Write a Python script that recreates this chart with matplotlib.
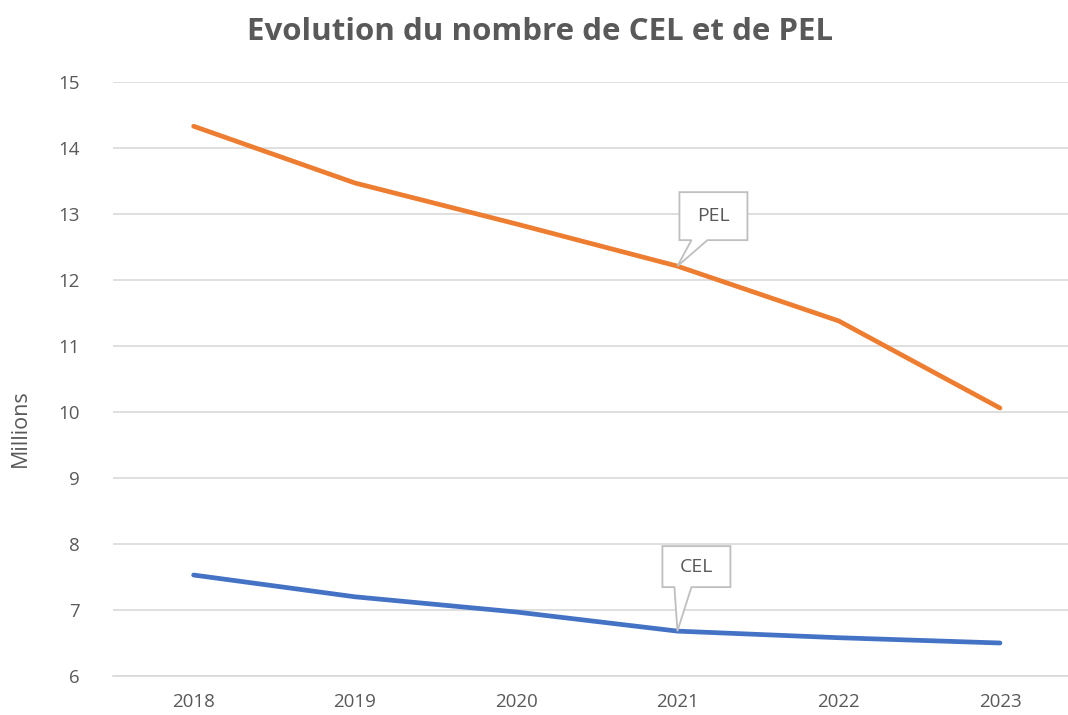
import matplotlib
matplotlib.use("Agg")
import matplotlib.pyplot as plt
import matplotlib.transforms as mtransforms
from matplotlib.patches import Polygon

years = ["2018", "2019", "2020", "2021", "2022", "2023"]
pel = [14.33, 13.47, 12.85, 12.21, 11.38, 10.06]
cel = [7.53, 7.20, 6.97, 6.68, 6.58, 6.50]

plt.rcParams['font.family'] = ['Open Sans', 'DejaVu Sans']
grey = '#595959'

fig = plt.figure(figsize=(10.68, 7.15), dpi=100)
ax = fig.add_axes([113/1068, 1-676/715, (1080.6-113)/1068, (676-82)/715])

x = list(range(len(years)))
ax.plot(x, cel, color='#4472C4', lw=3.4, solid_capstyle='round', zorder=3)
ax.plot(x, pel, color='#ED7D31', lw=3.4, solid_capstyle='round', zorder=3)

ax.set_xlim(-0.5, 5.5)
ax.set_ylim(6, 15)
ax.set_yticks(range(6, 16))
ax.set_xticks(x)
ax.set_xticklabels(years)
ax.grid(axis='y', color='#D9D9D9', lw=1.2)
ax.set_axisbelow(True)
for s in ['top', 'right', 'left']:
    ax.spines[s].set_visible(False)
ax.spines['bottom'].set_color('#D9D9D9')
ax.spines['bottom'].set_linewidth(1.2)
ax.tick_params(length=0, labelsize=13.5, labelcolor=grey)
ax.tick_params(axis='y', pad=24)
ax.tick_params(axis='x', pad=12)
ax.set_ylabel('Millions', fontsize=15.5, color=grey)
ax.yaxis.set_label_coords(-0.085, 0.4175)

fig.text(540/1068, 1-32/715, 'Evolution du nombre de CEL et de PEL', ha='center', va='center',
         fontsize=22.5, fontweight='bold', color=grey)


# callout boxes (offsets in pixels relative to the data point, y downward)
def callout(i, vals, label, left, right, top, bottom, b0, b1):
    trans = (mtransforms.Affine2D().scale(1/100, -1/100) + fig.dpi_scale_trans
             + mtransforms.ScaledTranslation(x[i], vals[i], ax.transData))
    pts = [(left, top), (right, top), (right, bottom), (b1, bottom), (0, 0),
           (b0, bottom), (left, bottom)]
    ax.add_patch(Polygon(pts, closed=True, transform=trans, fc='white', ec='#BFBFBF',
                         lw=1.3, zorder=4, clip_on=False))
    ax.text((left+right)/2, (top+bottom)/2, label, transform=trans, ha='center', va='center',
            fontsize=14, color=grey, zorder=5)


callout(3, pel, 'PEL', 2, 70, -74, -26, 14, 30)
callout(3, cel, 'CEL', -15, 53, -85, -44, -3, 14)

fig.savefig('out.png', dpi=100)
